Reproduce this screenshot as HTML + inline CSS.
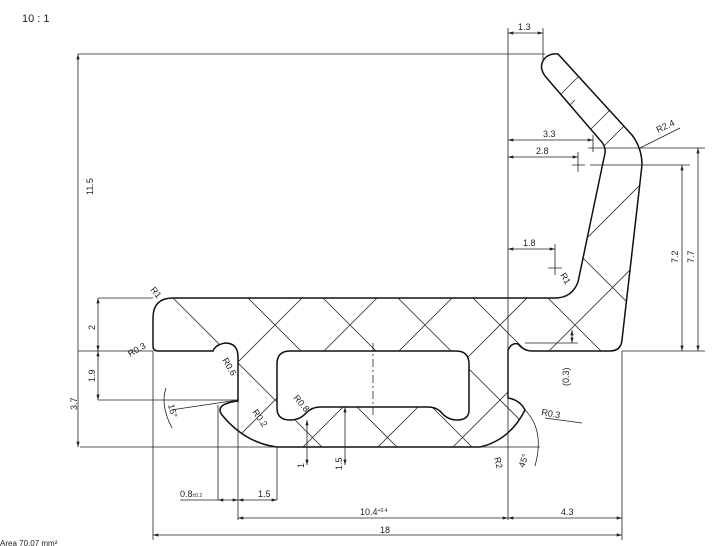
<!DOCTYPE html>
<html><head><style>
body{margin:0;background:#fff;overflow:hidden;}
svg{display:block;font-family:"Liberation Sans",sans-serif;}
</style></head><body>
<svg width="725" height="546" viewBox="0 0 725 546" xmlns="http://www.w3.org/2000/svg">
<defs>
<clipPath id="c">
<path clip-rule="evenodd" d="M153,318 Q153,298 173,298 L555,298 Q572,298 578,282 L605,153 Q606,146 600,140 L545,76 Q538,66 545,58 Q550,53 558,54 L632,135 Q642,148 642,165 L622,340 Q621,351 610,351 L532,351 Q524,351 518,344 Q512,342 508,350 L508,398 Q520,400 525,410 Q510,440 480,447 L277,447 Q245,443 222,415 Q214,404 238,401 L238,357 Q238,343 225,343 Q215,345 213,351 L158,351 Q153,351 153,346 Z M290,351 L456,351 Q469,351 469,364 L469,410 Q469,420 457,420 Q447,420 440,411 Q435,407 428,407 L320,407 Q312,407 306,413 Q300,420 290,420 Q277,420 277,408 L277,364 Q277,351 290,351 Z"/>
</clipPath>
<marker id="a" viewBox="0 0 10 6" refX="10" refY="3" markerWidth="8" markerHeight="4" orient="auto-start-reverse"><path d="M0,0 L10,3 L0,6 Z" fill="#222"/></marker>
</defs>
<text x="22" y="22" font-size="11" fill="#222">10 : 1</text>
<g clip-path="url(#c)" stroke="#333" stroke-width="0.8">
<path d="M100,150 L500,550 M175,150 L575,550 M250,150 L650,550 M325,150 L725,550 M400,150 L800,550 M475,150 L875,550 M25,150 L425,550 M-50,150 L350,550
M100,500 L500,100 M175,500 L575,100 M250,500 L650,100 M325,500 L725,100 M400,500 L800,100 M475,500 L875,100 M550,500 L950,100 M625,500 L1025,100"/>
<path d="M560,95 L585,70 M590,130 L615,105"/>
</g>
<g fill="none" stroke="#111" stroke-width="1.5">
<path d="M153,318 Q153,298 173,298 L555,298 Q572,298 578,282 L605,153 Q606,146 600,140 L545,76 Q538,66 545,58 Q550,53 558,54 L632,135 Q642,148 642,165 L622,340 Q621,351 610,351 L532,351 Q524,351 518,344 Q512,342 508,350 L508,398 Q520,400 525,410 Q510,440 480,447 L277,447 Q245,443 222,415 Q214,404 238,401 L238,357 Q238,343 225,343 Q215,345 213,351 L158,351 Q153,351 153,346 Z"/>
<path d="M290,351 L456,351 Q469,351 469,364 L469,410 Q469,420 457,420 Q447,420 440,411 Q435,407 428,407 L320,407 Q312,407 306,413 Q300,420 290,420 Q277,420 277,408 L277,364 Q277,351 290,351 Z"/>
</g>
<g stroke="#222" stroke-width="0.8" fill="none">
<path d="M78,54 L545,54 M508,28 L508,520 M543,28 L543,60"/>
<path d="M593,135 L593,152 M578,152 L578,172 M588,148 L600,148 M572,165 L585,165"/>
<path d="M555,244 L555,275 M548,268 L562,268"/>
<path d="M600,148 L705,148 M590,165 L690,165 M622,351 L705,351"/>
<path d="M98,298 L153,298 M78,351 L153,351 M98,400 L238,400 M80,447 L277,447"/>
<path d="M153,351 L153,540 M218,405 L218,500 M238,401 L238,520 M277,447 L277,500 M622,351 L622,540"/>
<path d="M180,500 L218,500 M525,343 L578,343"/>
<path d="M171,410 L238,400 M166,388 Q160,405 172,428"/>
<path d="M525,410 Q545,430 535,466 M480,447 L540,447"/>
<path d="M640,148 L680,128 M545,418 L582,423"/>
<path d="M373,343 L373,418" stroke-dasharray="8,3,2,3"/>
</g>
<g stroke="#222" stroke-width="0.8" fill="none" marker-start="url(#a)" marker-end="url(#a)">
<path d="M78,54 L78,447"/>
<path d="M508,33 L543,33"/>
<path d="M508,140 L593,140"/>
<path d="M508,157 L578,157"/>
<path d="M508,249 L555,249"/>
<path d="M682,165 L682,351"/>
<path d="M698,148 L698,351"/>
<path d="M98,298 L98,351"/>
<path d="M98,351 L98,400"/>
<path d="M218,500 L238,500"/>
<path d="M238,500 L277,500"/>
<path d="M238,518 L508,518"/>
<path d="M508,518 L622,518"/>
<path d="M153,535 L622,535"/>
<path d="M307,465 L307,420"/>
<path d="M345,465 L345,407"/>
<path d="M572,330 L572,343"/>
</g>
<g font-size="9" fill="#222">
<text x="518" y="30">1.3</text>
<text x="543" y="137">3.3</text>
<text x="536" y="154">2.8</text>
<text x="523" y="246">1.8</text>
<text x="360" y="515">10.4<tspan font-size="5" dy="-3">+0.4</tspan></text>
<text x="380" y="533">18</text>
<text x="258" y="497">1.5</text>
<text x="180" y="497">0.8<tspan font-size="5">±0.2</tspan></text>
<text x="561" y="515">4.3</text>
<text transform="translate(93,195) rotate(-90)">11.5</text>
<text transform="translate(95,330) rotate(-90)">2</text>
<text transform="translate(95,382) rotate(-90)">1.9</text>
<text transform="translate(77,410) rotate(-90)">3.7</text>
<text transform="translate(678,263) rotate(-90)">7.2</text>
<text transform="translate(694,263) rotate(-90)">7.7</text>
<text transform="translate(304,468) rotate(-90)">1</text>
<text transform="translate(342,470) rotate(-90)">1.5</text>
<text transform="translate(569,386) rotate(-90)">(0.3)</text>
<text transform="translate(658,133) rotate(-25)">R2.4</text>
<text transform="translate(560,275) rotate(60)">R1</text>
<text transform="translate(150,290) rotate(50)">R1</text>
<text transform="translate(130,357) rotate(-30)">R0.3</text>
<text transform="translate(222,360) rotate(60)">R0.6</text>
<text transform="translate(168,405) rotate(75)">15°</text>
<text transform="translate(252,412) rotate(55)">R0.2</text>
<text transform="translate(293,398) rotate(50)">R0.8</text>
<text transform="translate(541,415) rotate(10)">R0.3</text>
<text transform="translate(494,458) rotate(75)">R2</text>
<text transform="translate(524,468) rotate(-70)">45°</text>
<text x="0" y="546" font-size="8">Area 70.07 mm²</text>
</g>
</svg>
</body></html>
